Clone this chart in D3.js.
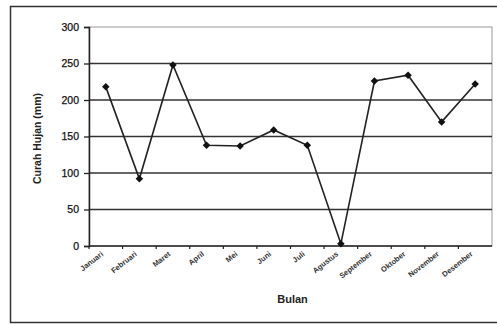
<!DOCTYPE html>
<html>
<head>
<meta charset="utf-8">
<script src="https://cdn.jsdelivr.net/npm/d3@7"></script>
<style>
  html, body { margin: 0; padding: 0; background: #fff; }
  svg { display: block; }
</style>
</head>
<body>
<svg id="chart" width="497" height="324"></svg>
<script>
// Monthly rainfall (mm)
const months = ["Januari", "Februari", "Maret", "April", "Mei", "Juni", "Juli",
                "Agustus", "September", "Oktober", "November", "Desember"];
const rainfall = [218, 92, 248, 138, 137, 159, 138, 3, 226, 234, 170, 222];
const yTicks = [0, 50, 100, 150, 200, 250, 300];

const svg = d3.select("#chart");
const plot = { left: 89, right: 492, top: 27, bottom: 246 };

// outer chart frame
svg.append("rect")
  .attr("x", 10.5).attr("y", 6.5)
  .attr("width", 500).attr("height", 316)
  .attr("fill", "#fff").attr("stroke", "#333").attr("stroke-width", 1.5);

const x = d3.scaleBand().domain(months).range([plot.left, plot.right]);
const y = d3.scaleLinear().domain([0, 300]).range([plot.bottom, plot.top]);

// plot area border (light)
svg.append("rect")
  .attr("x", plot.left).attr("y", plot.top)
  .attr("width", plot.right - plot.left).attr("height", plot.bottom - plot.top)
  .attr("fill", "none").attr("stroke", "#999").attr("stroke-width", 1);

// horizontal gridlines
svg.append("g").selectAll("line")
  .data(yTicks.filter(d => d > 0 && d < 300))
  .join("line")
  .attr("x1", plot.left).attr("x2", plot.right)
  .attr("y1", d => y(d)).attr("y2", d => y(d))
  .attr("stroke", "#333").attr("stroke-width", 1.3);

// y axis
const yAxis = svg.append("g")
  .attr("transform", `translate(${plot.left},0)`)
  .call(d3.axisLeft(y).tickValues(yTicks).tickSize(5).tickPadding(5));
yAxis.select(".domain").attr("stroke", "#222").attr("stroke-width", 1.5);
yAxis.selectAll(".tick line").attr("stroke", "#222").attr("stroke-width", 1.3);
yAxis.selectAll("text")
  .attr("font-family", "Liberation Sans, Arial, sans-serif")
  .attr("font-size", 10.5).attr("fill", "#111")
  .attr("stroke", "#111").attr("stroke-width", 0.25);

// x axis: ticks at category boundaries, labels rotated
const xAxis = svg.append("g").attr("transform", `translate(0,${plot.bottom})`);
xAxis.append("line")
  .attr("x1", plot.left).attr("x2", plot.right)
  .attr("stroke", "#222").attr("stroke-width", 1.5);
xAxis.selectAll("line.tk")
  .data(months)
  .join("line").attr("class", "tk")
  .attr("x1", d => x(d)).attr("x2", d => x(d))
  .attr("y1", 0).attr("y2", 3)
  .attr("stroke", "#222").attr("stroke-width", 1.2);
xAxis.selectAll("text")
  .data(months)
  .join("text")
  .attr("transform", d => `translate(${x(d) + x.bandwidth() / 2 - 2},${9}) rotate(-38)`)
  .attr("text-anchor", "end")
  .attr("font-family", "Liberation Sans, Arial, sans-serif")
  .attr("font-size", 7.5).attr("font-weight", "bold")
  .attr("fill", "#333")
  .text(d => d);

// line series
const line = d3.line()
  .x((d, i) => x(months[i]) + x.bandwidth() / 2)
  .y(d => y(d));
svg.append("path")
  .datum(rainfall)
  .attr("d", line)
  .attr("fill", "none").attr("stroke", "#222").attr("stroke-width", 1.6);

// diamond markers
svg.append("g").selectAll("path")
  .data(rainfall)
  .join("path")
  .attr("transform", (d, i) => `translate(${x(months[i]) + x.bandwidth() / 2},${y(d)})`)
  .attr("d", d3.symbol(d3.symbolDiamond2, 36))
  .attr("fill", "#111");

// axis titles
svg.append("text")
  .attr("transform", `translate(41,${(plot.top + plot.bottom) / 2 + 2}) rotate(-90)`)
  .attr("text-anchor", "middle")
  .attr("font-family", "Liberation Sans, Arial, sans-serif")
  .attr("font-size", 10.5).attr("font-weight", "bold").attr("fill", "#222")
  .text("Curah Hujan (mm)");

svg.append("text")
  .attr("x", (plot.left + plot.right) / 2 + 2).attr("y", 303)
  .attr("text-anchor", "middle")
  .attr("font-family", "Liberation Sans, Arial, sans-serif")
  .attr("font-size", 11).attr("font-weight", "bold").attr("fill", "#222")
  .text("Bulan");
</script>
</body>
</html>
